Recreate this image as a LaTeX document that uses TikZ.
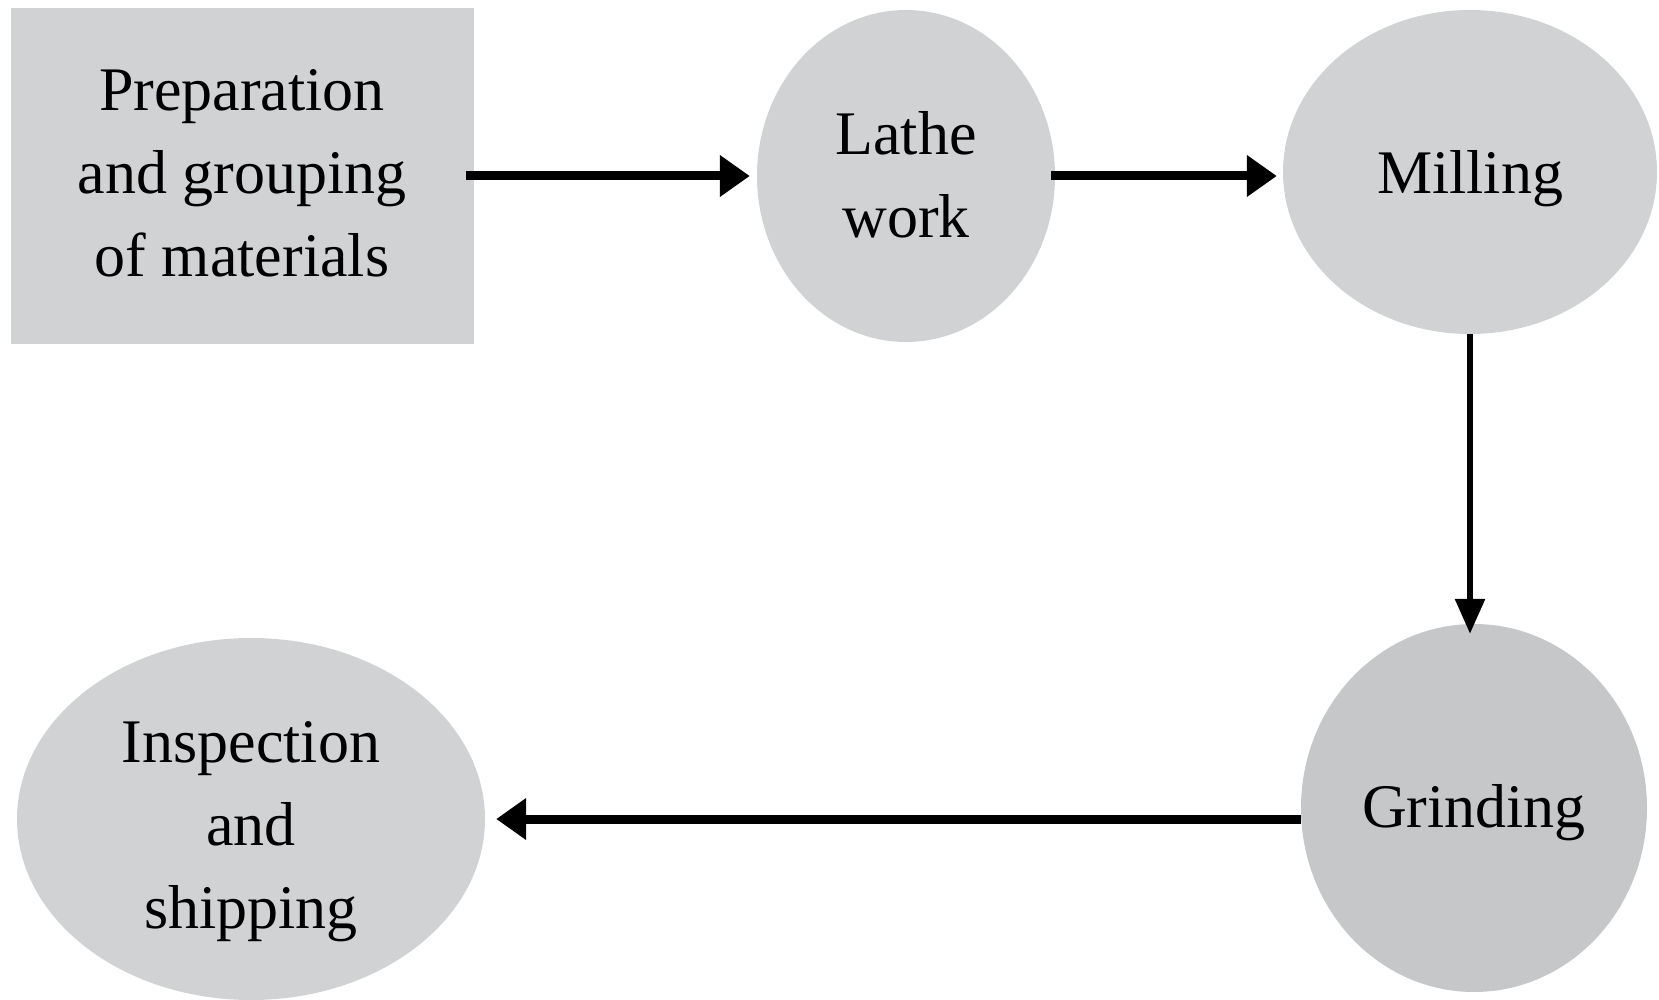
\documentclass[tikz,border=0pt]{standalone}
\usepackage{fontspec}
\setmainfont{Liberation Serif}
\usetikzlibrary{arrows.meta,shapes.geometric}
\definecolor{stepgray}{HTML}{D1D2D4}
\definecolor{darkgray}{HTML}{C6C7C9}
\tikzset{
  stage/.style={fill=stepgray, draw=none, inner sep=0pt},
  boxstage/.style={stage, rectangle},
  ovalstage/.style={stage, ellipse},
  stagetext/.style={inner sep=0pt, align=center,
    font=\fontsize{62}{83}\selectfont},
  hflow/.style={line width=9pt, -{Triangle[length=30pt,width=40pt]}},
  vflow/.style={line width=6pt, -{Triangle[length=35pt,width=29pt]}},
}
\begin{document}
\begin{tikzpicture}[x=1pt, y=-1pt]
  \useasboundingbox (0,0) rectangle (1659,1000);

  % process stages, each with its caption set at the centre
  \node[boxstage, minimum width=463pt, minimum height=336pt,
    label={[stagetext, name=prep-text, yshift=3pt]center:{Preparation\\and grouping\\of materials}}]
    (prep) at (242,176) {};
  \node[ovalstage, minimum width=298pt, minimum height=332pt,
    label={[stagetext, name=lathe-text, yshift=1pt]center:{Lathe\\work}}]
    (lathe) at (906,176) {};
  \node[ovalstage, minimum width=374pt, minimum height=324pt,
    label={[stagetext, name=mill-text, yshift=-6.5pt]center:{Milling}}]
    (mill) at (1470,172) {};
  \node[ovalstage, fill=darkgray, minimum width=346pt, minimum height=368pt,
    label={[stagetext, name=grind-text, yshift=-5pt]center:{Grinding}}]
    (grind) at (1474,808) {};
  \node[ovalstage, minimum width=468pt, minimum height=362pt,
    label={[stagetext, name=insp-text, yshift=-12.5pt]center:{Inspection\\and\\shipping}}]
    (insp) at (251,819) {};

  % flow between stages
  \draw[hflow] ([xshift=-8pt]prep.east) -- ([xshift=-7pt]prep.east -| lathe.west);
  \draw[hflow] ([xshift=-4pt]lathe.east) -- ([xshift=-6pt]lathe.east -| mill.west);
  \draw[vflow] (mill.south) -- ([yshift=-10pt]mill.south |- grind.north);
  \draw[hflow] (grind.west |- insp.east) -- ([xshift=11pt]insp.east);
\end{tikzpicture}
\end{document}
